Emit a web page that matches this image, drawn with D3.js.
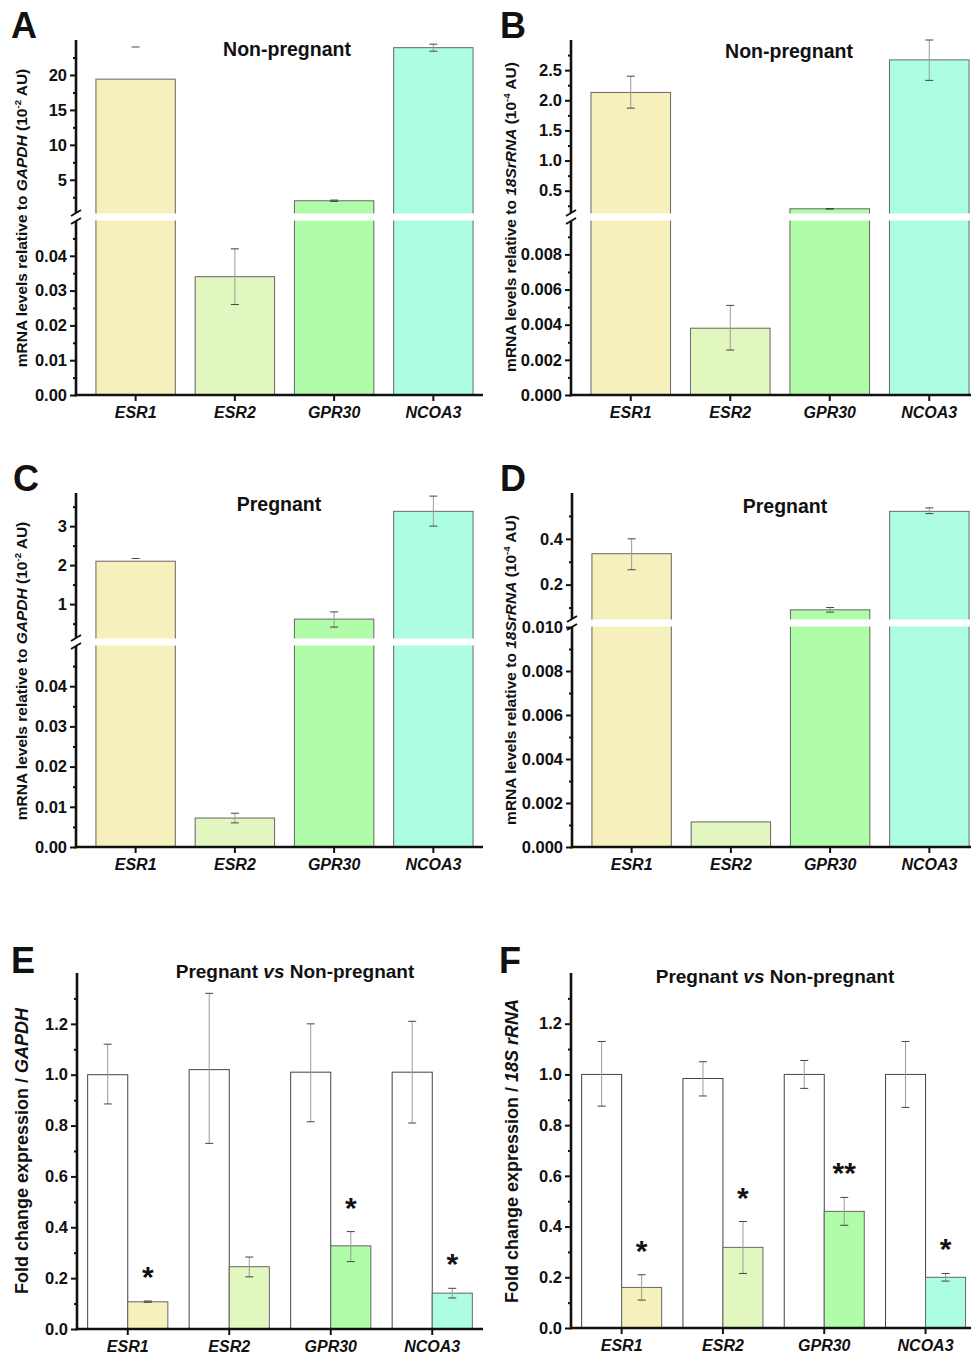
<!DOCTYPE html>
<html lang="en">
<head>
<meta charset="UTF-8">
<title>ESR1 / ESR2 / GPR30 / NCOA3 mRNA levels</title>
<style>
  body { margin: 0; background: #fff; }
  svg text { font-family: "Liberation Sans", Arial, sans-serif; font-weight: bold; fill: #111; }
</style>
</head>
<body>
<svg id="chart" width="971" height="1356"></svg>
<script src="https://d3js.org/d3.v7.min.js"></script>
<script>
// genes on the x axis
const genes = ["ESR1", "ESR2", "GPR30", "NCOA3"];

// A: non-pregnant, relative to GAPDH (upper segment in 10^-2 AU)
const npGapdh = [19.4, 0.034, 2.0, 23.9];
const npGapdhErr = [[null, 24.0], [0.026, 0.042], [1.9, 2.1], [23.4, 24.4]];
// B: non-pregnant, relative to 18S rRNA (upper segment in 10^-4 AU)
const np18s = [2.13, 0.0038, 0.2, 2.67];
const np18sErr = [[1.87, 2.4], [0.00256, 0.0051], [0.195, 0.205], [2.33, 3.0]];
// C: pregnant, relative to GAPDH
const pGapdh = [2.1, 0.0072, 0.615, 3.38];
const pGapdhErr = [[null, 2.17], [0.006, 0.0084], [0.41, 0.8], [3.0, 3.77]];
// D: pregnant, relative to 18S rRNA
const p18s = [0.335, 0.00114, 0.09, 0.52];
const p18sErr = [[0.265, 0.4], [null, null], [0.08, 0.1], [0.51, 0.535]];

// E: fold change / GAPDH
const foldGapdhNP = [1.0, 1.02, 1.01, 1.01];
const foldGapdhNPErr = [[0.885, 1.12], [0.73, 1.32], [0.815, 1.2], [0.81, 1.21]];
const foldGapdhP = [0.107, 0.245, 0.327, 0.141];
const foldGapdhPErr = [[0.105, 0.11], [0.205, 0.283], [0.265, 0.383], [0.122, 0.16]];
const sigE = ["*", "", "*", "*"];
// F: fold change / 18S rRNA
const fold18sNP = [1.0, 0.984, 1.0, 1.0];
const fold18sNPErr = [[0.875, 1.13], [0.915, 1.05], [0.945, 1.055], [0.87, 1.13]];
const fold18sP = [0.16, 0.318, 0.46, 0.2];
const fold18sPErr = [[0.11, 0.21], [0.215, 0.42], [0.405, 0.515], [0.185, 0.215]];
const sigF = ["*", "*", "**", "*"];

// tick values
const ticksA = { up: [5, 10, 15, 20], upMinor: [2.5, 7.5, 12.5, 17.5, 22.5], low: [0, 0.01, 0.02, 0.03, 0.04], lowMinor: [0.005, 0.015, 0.025, 0.035, 0.045] };
const ticksB = { up: [0.5, 1.0, 1.5, 2.0, 2.5], upMinor: [0.25, 0.75, 1.25, 1.75, 2.25, 2.75], low: [0, 0.002, 0.004, 0.006, 0.008], lowMinor: [0.001, 0.003, 0.005, 0.007, 0.009] };
const ticksC = { up: [1, 2, 3], upMinor: [0.5, 1.5, 2.5, 3.5], low: [0, 0.01, 0.02, 0.03, 0.04], lowMinor: [0.005, 0.015, 0.025, 0.035, 0.045] };
const ticksD = { up: [0.2, 0.4], upMinor: [0.1, 0.3, 0.5], low: [0, 0.002, 0.004, 0.006, 0.008, 0.010], lowMinor: [0.001, 0.003, 0.005, 0.007, 0.009] };
const ticksFold = [0, 0.2, 0.4, 0.6, 0.8, 1.0, 1.2];
const ticksFoldMinor = [0.1, 0.3, 0.5, 0.7, 0.9, 1.1, 1.3];

const colors = ["#f5f0bc", "#e1f7bf", "#b1fca8", "#adfde3"];

const svg = d3.select("#chart");

function addLetter(t, x, y) {
  svg.append("text").attr("x", x).attr("y", y).attr("font-size", 36).text(t);
}

function addTitle(parts, x, y, size) {
  const t = svg.append("text").attr("x", x).attr("y", y)
    .attr("text-anchor", "middle").attr("font-size", size);
  parts.forEach(p => t.append("tspan").attr("font-style", p[1] ? "italic" : "normal").text(p[0]));
}

// rotated y label; parts = [text, italic, superscript]
function addYLabel(parts, x, y, size) {
  const t = svg.append("text").attr("transform", `translate(${x},${y}) rotate(-90)`)
    .attr("text-anchor", "middle").attr("font-size", size);
  let raised = false;
  parts.forEach(p => {
    const s = t.append("tspan").attr("font-style", p[1] ? "italic" : "normal").text(p[0]);
    if (p[2]) { s.attr("font-size", size * 0.62).attr("dy", -6); raised = true; }
    else if (raised) { s.attr("dy", 6); raised = false; }
  });
}

function leftAxis(g, scale, majors, minors, fmt) {
  g.append("g").call(d3.axisLeft(scale).tickValues(majors).tickFormat(d3.format(fmt)).tickSize(6).tickPadding(3))
    .call(a => a.select(".domain").remove())
    .call(a => a.selectAll("line").attr("stroke", "#111").attr("stroke-width", 2))
    .call(a => a.selectAll("text").attr("font-size", 16.5).attr("font-family", null).attr("fill", "#111"));
  g.append("g").call(d3.axisLeft(scale).tickValues(minors).tickFormat("").tickSize(3))
    .call(a => a.select(".domain").remove())
    .call(a => a.selectAll("line").attr("stroke", "#111").attr("stroke-width", 2));
}

function bottomAxis(x, y, xScale, axisX, xEnd) {
  svg.append("g").attr("transform", `translate(0,${y})`)
    .call(d3.axisBottom(xScale).tickSize(6).tickSizeOuter(0).tickPadding(6))
    .call(a => a.select(".domain").remove())
    .call(a => a.selectAll("line").attr("stroke", "#111").attr("stroke-width", 2))
    .call(a => a.selectAll("text").attr("font-size", 16).attr("font-style", "italic").attr("font-family", null).attr("fill", "#111"));
  svg.append("line").attr("x1", axisX - 1.2).attr("x2", xEnd).attr("y1", y).attr("y2", y)
    .attr("stroke", "#111").attr("stroke-width", 2.6);
}

function errorBar(g, cx, yLo, yHi) {
  if (yLo != null && yHi != null) {
    g.append("line").attr("x1", cx).attr("x2", cx).attr("y1", yLo).attr("y2", yHi)
      .attr("stroke", "#9a9a9a").attr("stroke-width", 1);
  }
  [yLo, yHi].forEach(yy => {
    if (yy == null) return;
    g.append("line").attr("x1", cx - 4).attr("x2", cx + 4).attr("y1", yy).attr("y2", yy)
      .attr("stroke", "#444").attr("stroke-width", 1);
  });
}

// bar chart with a broken y axis
function brokenPanel(o) {
  const gap = 8;
  const x = d3.scaleBand().domain(genes).range([o.axisX + 10, o.xEnd]).paddingInner(0.2).paddingOuter(0.1);
  const yLow = d3.scaleLinear().domain(o.lowDomain).range([o.yBase, o.breakY + gap / 2]);
  const yUp = d3.scaleLinear().domain(o.upDomain).range([o.breakY - gap / 2, o.yTop]);
  const yPos = v => (v == null ? null : (v <= o.lowDomain[1] ? yLow(v) : yUp(v)));

  const g = svg.append("g");
  g.selectAll("rect.bar").data(o.values).join("rect").attr("class", "bar")
    .attr("x", (d, i) => x(genes[i]))
    .attr("y", d => yPos(d))
    .attr("width", x.bandwidth())
    .attr("height", d => o.yBase - yPos(d))
    .attr("fill", (d, i) => colors[i])
    .attr("stroke", "#666").attr("stroke-width", 1);

  o.errors.forEach((e, i) => errorBar(g, x(genes[i]) + x.bandwidth() / 2, yPos(e[0]), yPos(e[1])));

  // white band through the break
  g.append("rect").attr("x", o.axisX + 1.5).attr("y", o.breakY - 3.5)
    .attr("width", o.xEnd - o.axisX).attr("height", 7).attr("fill", "#fff");

  // y axis segments
  const ax = svg.append("g").attr("transform", `translate(${o.axisX},0)`);
  leftAxis(ax, yUp, o.ticks.up, o.ticks.upMinor, o.upFmt);
  leftAxis(ax, yLow, o.ticks.low, o.ticks.lowMinor, o.lowFmt);
  ax.append("line").attr("y1", o.yTop).attr("y2", o.breakY - gap / 2).attr("stroke", "#111").attr("stroke-width", 2.6);
  ax.append("line").attr("y1", o.breakY + gap / 2).attr("y2", o.yBase + 1.3).attr("stroke", "#111").attr("stroke-width", 2.6);
  [-gap / 2, gap / 2].forEach(dy => {
    ax.append("line").attr("x1", -5).attr("x2", 5)
      .attr("y1", o.breakY + dy + 3).attr("y2", o.breakY + dy - 3)
      .attr("stroke", "#111").attr("stroke-width", 2);
  });

  bottomAxis(g, o.yBase, x, o.axisX, o.xEnd);
}

// grouped fold-change chart
function foldPanel(o) {
  const x = d3.scaleBand().domain(genes).range([o.axisX, o.axisX + 4 * o.step]).padding(0);
  const w = o.step * 0.395;
  const y = d3.scaleLinear().domain([0, 1.4]).range([o.yBase, o.yTop]);
  const g = svg.append("g");

  genes.forEach((gene, i) => {
    const cx = x(gene) + x.bandwidth() / 2;
    g.append("rect").attr("x", cx - w).attr("y", y(o.np[i])).attr("width", w)
      .attr("height", o.yBase - y(o.np[i])).attr("fill", "#fff").attr("stroke", "#444").attr("stroke-width", 1);
    g.append("rect").attr("x", cx).attr("y", y(o.p[i])).attr("width", w)
      .attr("height", o.yBase - y(o.p[i])).attr("fill", colors[i]).attr("stroke", "#666").attr("stroke-width", 1);
    errorBar(g, cx - w / 2, y(o.npErr[i][0]), y(o.npErr[i][1]));
    errorBar(g, cx + w / 2, y(o.pErr[i][0]), y(o.pErr[i][1]));
    if (o.sig[i]) {
      g.append("text").attr("x", cx + w / 2).attr("y", y(o.pErr[i][1]) - 14)
        .attr("text-anchor", "middle").attr("font-size", 30).text(o.sig[i]);
    }
  });

  const ax = svg.append("g").attr("transform", `translate(${o.axisX},0)`);
  leftAxis(ax, y, ticksFold, ticksFoldMinor, ".1f");
  ax.append("line").attr("y1", o.yTop).attr("y2", o.yBase + 1.3).attr("stroke", "#111").attr("stroke-width", 2.6);

  bottomAxis(g, o.yBase, x, o.axisX, o.xEnd);
}

// ---- A ----
brokenPanel({ axisX: 76, xEnd: 483, yTop: 40, yBase: 395, breakY: 217,
  lowDomain: [0, 0.05], upDomain: [0.25, 25], ticks: ticksA, lowFmt: ".2f", upFmt: "d",
  values: npGapdh, errors: npGapdhErr });
addLetter("A", 11, 38);
addTitle([["Non-pregnant", false]], 287, 56, 19.5);
addYLabel([["mRNA levels relative to  ", false], ["GAPDH", true], [" (10", false], ["-2", false, true], [" AU)", false]], 27, 218, 15.5);

// ---- B ----
brokenPanel({ axisX: 571, xEnd: 979, yTop: 40, yBase: 395, breakY: 217,
  lowDomain: [0, 0.0099], upDomain: [0.13, 3.0], ticks: ticksB, lowFmt: ".3f", upFmt: ".1f",
  values: np18s, errors: np18sErr });
addLetter("B", 500, 38);
addTitle([["Non-pregnant", false]], 789, 58, 19.5);
addYLabel([["mRNA levels relative to  ", false], ["18SrRNA", true], [" (10", false], ["-4", false, true], [" AU)", false]], 516, 217, 15.5);

// ---- C ----
brokenPanel({ axisX: 76, xEnd: 483, yTop: 493, yBase: 847, breakY: 642,
  lowDomain: [0, 0.05], upDomain: [0.13, 3.85], ticks: ticksC, lowFmt: ".2f", upFmt: "d",
  values: pGapdh, errors: pGapdhErr });
addLetter("C", 13, 491);
addTitle([["Pregnant", false]], 279, 511, 19.5);
addYLabel([["mRNA levels relative to  ", false], ["GAPDH", true], [" (10", false], ["-2", false, true], [" AU)", false]], 27, 671, 15.5);

// ---- D ----
brokenPanel({ axisX: 572, xEnd: 979, yTop: 493, yBase: 847, breakY: 623,
  lowDomain: [0, 0.010], upDomain: [0.05, 0.6], ticks: ticksD, lowFmt: ".3f", upFmt: ".1f",
  values: p18s, errors: p18sErr });
addLetter("D", 500, 491);
addTitle([["Pregnant", false]], 785, 513, 19.5);
addYLabel([["mRNA levels relative to  ", false], ["18SrRNA", true], [" (10", false], ["-4", false, true], [" AU)", false]], 516, 670, 15.5);

// ---- E ----
foldPanel({ axisX: 77, xEnd: 483, step: 101.5, yTop: 973, yBase: 1329,
  np: foldGapdhNP, npErr: foldGapdhNPErr, p: foldGapdhP, pErr: foldGapdhPErr, sig: sigE });
addLetter("E", 11, 973);
addTitle([["Pregnant ", false], ["vs", true], [" Non-pregnant", false]], 295, 978, 19);
addYLabel([["Fold change expression / ", false], ["GAPDH", true]], 28, 1151, 18);

// ---- F ----
foldPanel({ axisX: 571, xEnd: 971, step: 101.3, yTop: 973, yBase: 1328,
  np: fold18sNP, npErr: fold18sNPErr, p: fold18sP, pErr: fold18sPErr, sig: sigF });
addLetter("F", 499, 973);
addTitle([["Pregnant ", false], ["vs", true], [" Non-pregnant", false]], 775, 983, 19);
addYLabel([["Fold change expression / ", false], ["18S rRNA", true]], 518, 1151, 18);
</script>
</body>
</html>
